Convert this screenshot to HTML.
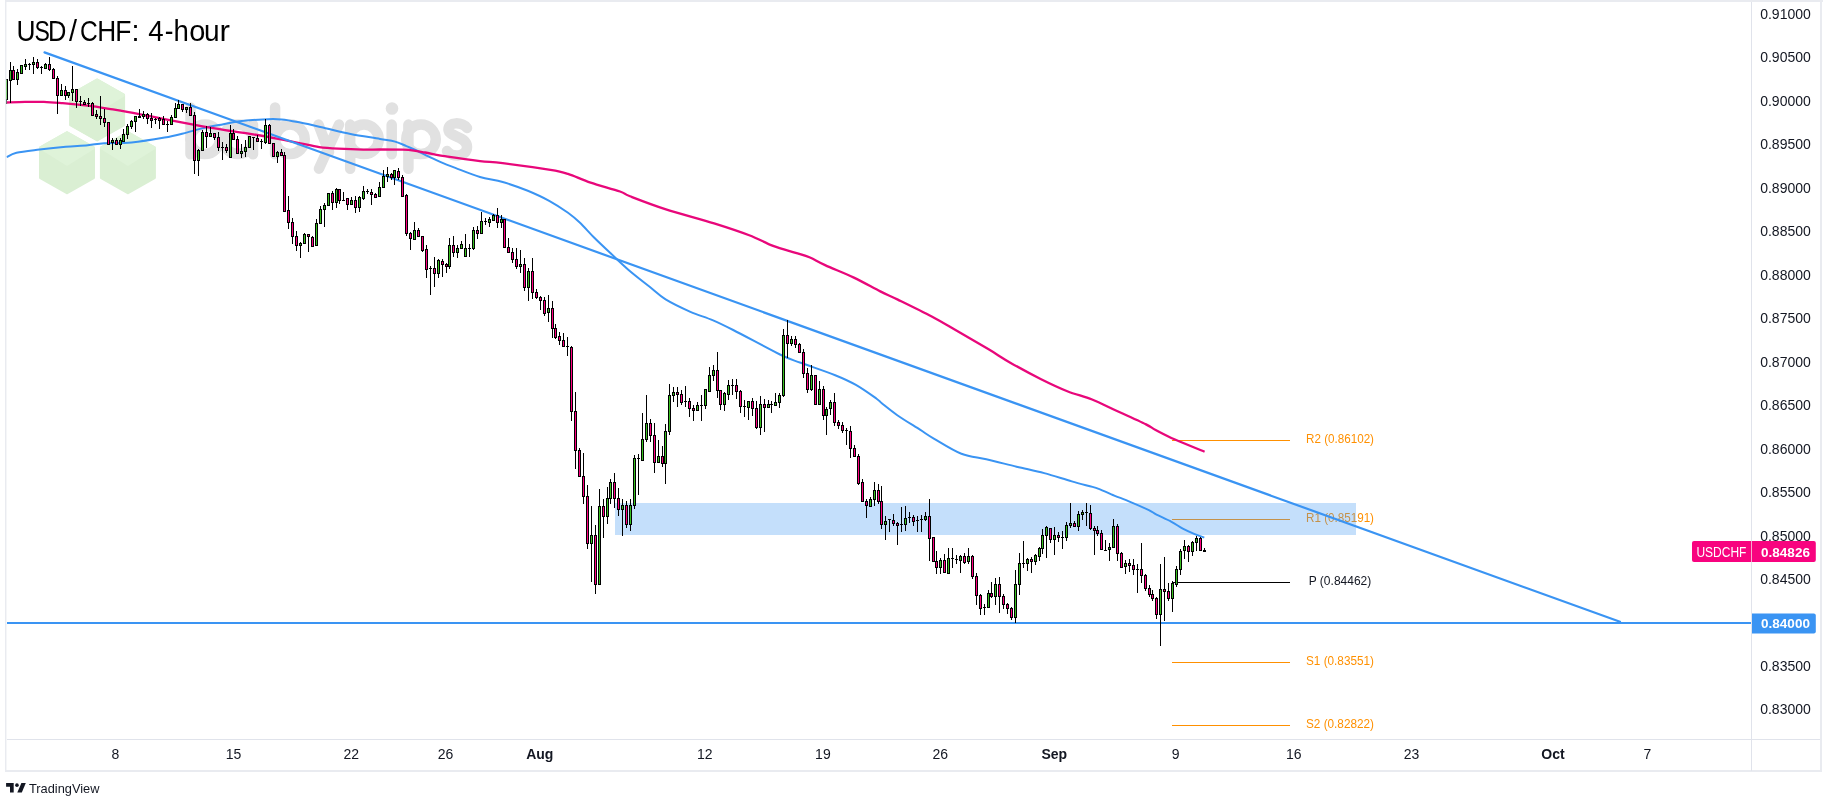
<!DOCTYPE html>
<html><head><meta charset="utf-8"><title>USD/CHF 4-hour</title>
<style>html,body{margin:0;padding:0;background:#fff;width:1823px;height:797px;overflow:hidden;position:relative}</style>
</head><body>
<svg width="1823" height="797" viewBox="0 0 1823 797" style="position:absolute;left:0;top:0;will-change:transform"><defs><clipPath id="pane"><rect x="6" y="2" width="1745" height="737"/></clipPath></defs><g clip-path="url(#pane)"><polygon points="97.10,80.02 123.60,94.97 123.60,124.93 97.10,139.88 70.60,124.93 70.60,94.97" fill="#daefd3" stroke="#daefd3" stroke-width="3" stroke-linejoin="round"/><polygon points="97.10,80.02 123.60,94.97 97.10,111.45 70.60,94.97" fill="#dff3d9" stroke="#dff3d9" stroke-width="3" stroke-linejoin="round"/>
<polygon points="67.00,132.82 93.50,147.77 93.50,177.73 67.00,192.67 40.50,177.73 40.50,147.77" fill="#fff" stroke="#fff" stroke-width="14" stroke-linejoin="round"/>
<polygon points="127.90,132.82 154.40,147.77 154.40,177.73 127.90,192.67 101.40,177.73 101.40,147.77" fill="#fff" stroke="#fff" stroke-width="14" stroke-linejoin="round"/>
<polygon points="67.00,132.82 93.50,147.77 93.50,177.73 67.00,192.67 40.50,177.73 40.50,147.77" fill="#daefd3" stroke="#daefd3" stroke-width="3" stroke-linejoin="round"/><polygon points="67.00,132.82 93.50,147.77 67.00,164.25 40.50,147.77" fill="#dff3d9" stroke="#dff3d9" stroke-width="3" stroke-linejoin="round"/>
<polygon points="127.90,132.82 154.40,147.77 154.40,177.73 127.90,192.67 101.40,177.73 101.40,147.77" fill="#daefd3" stroke="#daefd3" stroke-width="3" stroke-linejoin="round"/><polygon points="127.90,132.82 154.40,147.77 127.90,164.25 101.40,147.77" fill="#dff3d9" stroke="#dff3d9" stroke-width="3" stroke-linejoin="round"/>
<path d="M190.5 107.5V154.2 M190.25 139.35a14.75 14.75 0 1 0 29.5 0a14.75 14.75 0 1 0 -29.5 0 M223.25 139.35a14.75 14.75 0 1 0 29.5 0a14.75 14.75 0 1 0 -29.5 0 M253 124.6V154.2 M275.1 107.5V154.2 M275.25 139.35a14.75 14.75 0 1 0 29.5 0a14.75 14.75 0 1 0 -29.5 0 M318.5 124.6L329 152 M339 124.6L319 168.7 M350.2 124.6V168.7 M349.25 139.35a14.75 14.75 0 1 0 29.5 0a14.75 14.75 0 1 0 -29.5 0 M391.7 124.6V154.2 M408.4 124.6V168.7 M406.25 139.35a14.75 14.75 0 1 0 29.5 0a14.75 14.75 0 1 0 -29.5 0 M467 128C462 122 448 121 448.5 130C449 137 467 136 467 147C467 157 452 158 447 151" fill="none" stroke="#e1e1e1" stroke-width="10.5" stroke-linecap="round"/>
<circle cx="392" cy="108.5" r="6.3" fill="#e1e1e1"/><rect x="1172" y="440" width="118" height="1" fill="#ff9000"/>
<text x="1340" y="443" fill="#ff9000" font-size="13" text-anchor="middle" textLength="68" lengthAdjust="spacingAndGlyphs" style="font-family:'Liberation Sans',sans-serif">R2 (0.86102)</text>
<rect x="1172" y="519" width="118" height="1" fill="#ff9000"/>
<text x="1340" y="522" fill="#ff9000" font-size="13" text-anchor="middle" textLength="68" lengthAdjust="spacingAndGlyphs" style="font-family:'Liberation Sans',sans-serif">R1 (0.85191)</text>
<rect x="1172" y="582" width="118" height="1" fill="#000"/>
<text x="1340" y="585" fill="#131722" font-size="13" text-anchor="middle" textLength="62.5" lengthAdjust="spacingAndGlyphs" style="font-family:'Liberation Sans',sans-serif">P (0.84462)</text>
<rect x="1172" y="662" width="118" height="1" fill="#ff9000"/>
<text x="1340" y="665" fill="#ff9000" font-size="13" text-anchor="middle" textLength="68" lengthAdjust="spacingAndGlyphs" style="font-family:'Liberation Sans',sans-serif">S1 (0.83551)</text>
<rect x="1172" y="725" width="118" height="1" fill="#ff9000"/>
<text x="1340" y="728" fill="#ff9000" font-size="13" text-anchor="middle" textLength="68" lengthAdjust="spacingAndGlyphs" style="font-family:'Liberation Sans',sans-serif">S2 (0.82822)</text><rect x="615" y="503" width="741" height="32" fill="rgba(58,148,243,0.3)"/><path d="M6.6 157.2 C8.2 156.5 11.0 154.1 16.5 152.8 C22.0 151.5 31.3 150.6 39.5 149.6 C47.7 148.6 57.8 147.5 65.8 146.8 C73.8 146.1 81.4 145.8 87.8 145.2 C94.2 144.6 96.9 143.8 104.2 143.3 C111.5 142.8 121.5 143.4 131.6 142.4 C141.7 141.4 155.4 139.1 164.6 137.5 C173.8 135.9 180.6 134.0 186.5 132.6 C192.4 131.2 194.6 130.2 200.0 128.9 C205.4 127.7 212.5 126.3 218.8 125.1 C225.1 123.9 230.3 122.5 237.6 121.6 C244.9 120.6 255.4 119.8 262.7 119.4 C270.0 119.0 275.3 118.9 281.6 119.4 C287.9 119.9 293.1 121.1 300.4 122.6 C307.7 124.1 317.1 126.3 325.5 128.2 C333.9 130.1 341.5 132.1 350.6 133.9 C359.7 135.7 372.6 137.6 380.0 138.9 C387.4 140.2 390.7 140.4 395.1 141.6 C399.5 142.8 402.6 144.5 406.4 146.1 C410.1 147.7 413.9 149.2 417.6 151.0 C421.4 152.8 425.1 154.8 428.9 156.6 C432.7 158.4 435.8 160.0 440.2 161.9 C444.6 163.8 448.7 165.4 455.3 167.9 C461.9 170.4 472.1 174.7 480.0 177.0 C487.9 179.3 494.7 179.7 502.7 182.0 C510.7 184.3 520.0 187.7 527.8 190.8 C535.5 194.0 542.5 197.2 549.2 200.9 C555.9 204.6 562.9 209.2 568.0 212.8 C573.1 216.5 575.7 218.7 580.0 222.8 C584.3 226.9 588.7 232.2 593.8 237.3 C598.9 242.4 604.6 247.7 610.4 253.1 C616.1 258.5 621.9 264.2 628.3 269.7 C634.7 275.2 642.8 281.4 649.0 286.3 C655.2 291.2 658.7 295.1 665.6 299.4 C672.5 303.6 682.6 308.4 690.4 311.8 C698.2 315.2 705.4 317.1 712.5 320.1 C719.6 323.1 722.0 324.3 733.2 330.0 C744.5 335.7 768.8 349.0 780.0 354.5 C791.2 360.0 791.5 359.4 800.7 362.8 C809.9 366.2 826.0 371.5 835.2 375.2 C844.4 378.9 849.0 381.0 855.9 384.9 C862.8 388.8 872.2 395.6 876.6 398.7 C881.0 401.8 878.7 400.8 882.1 403.5 C885.5 406.2 891.0 410.8 897.3 415.2 C903.6 419.6 913.9 425.8 920.0 429.7 C926.1 433.6 926.9 434.6 933.8 438.6 C940.7 442.6 952.6 450.4 961.4 453.8 C970.1 457.2 977.1 457.2 986.3 459.3 C995.5 461.4 1007.0 464.4 1016.6 466.7 C1026.2 469.0 1035.0 470.7 1044.2 473.1 C1053.4 475.6 1063.8 479.1 1071.8 481.4 C1079.8 483.7 1087.8 485.6 1092.5 486.9 C1097.2 488.2 1096.9 488.2 1100.0 489.4 C1103.1 490.6 1106.3 492.2 1111.3 494.3 C1116.3 496.4 1123.8 499.2 1130.1 501.8 C1136.4 504.4 1144.5 508.0 1148.9 510.1 C1153.3 512.2 1152.7 512.7 1156.5 514.6 C1160.3 516.5 1167.1 519.5 1171.5 521.8 C1175.9 524.1 1179.0 526.6 1182.8 528.6 C1186.6 530.6 1190.5 532.3 1194.1 533.8 C1197.7 535.3 1202.6 537.0 1204.3 537.6" fill="none" stroke="#3a94f3" stroke-width="2"/><path d="M6.3 102.5 C9.4 102.4 18.8 102.0 25.1 101.9 C31.4 101.8 37.6 101.7 43.9 101.9 C50.2 102.1 55.4 102.6 62.7 103.2 C70.0 103.8 79.4 104.7 87.8 105.7 C96.2 106.7 104.5 108.1 112.9 109.4 C121.3 110.8 129.6 112.2 138.0 113.8 C146.4 115.4 152.8 116.9 163.1 118.9 C173.4 120.9 189.7 124.0 200.0 125.9 C210.3 127.8 216.7 128.8 225.1 130.1 C233.5 131.4 241.8 132.5 250.2 133.9 C258.6 135.3 266.9 136.7 275.3 138.3 C283.7 139.9 293.1 141.8 300.4 143.3 C307.7 144.8 312.9 146.2 319.2 147.1 C325.5 148.0 330.7 148.3 338.0 148.7 C345.3 149.1 356.1 149.5 363.1 149.6 C370.1 149.7 373.4 149.5 380.0 149.5 C386.6 149.5 397.0 149.5 402.6 149.7 C408.2 149.9 410.1 150.1 413.9 150.6 C417.7 151.1 419.5 151.5 425.2 152.5 C430.9 153.5 438.7 155.2 447.8 156.6 C456.9 158.0 470.9 160.0 480.0 161.1 C489.1 162.2 491.0 161.7 502.7 163.2 C514.4 164.7 539.5 168.1 550.4 169.9 C561.3 171.7 561.3 171.8 568.0 173.9 C574.7 176.0 581.9 179.8 590.6 182.7 C599.3 185.6 613.4 189.2 620.0 191.5 C626.6 193.8 622.5 193.4 630.0 196.3 C637.5 199.2 651.2 204.6 665.2 209.1 C679.2 213.6 700.1 219.0 714.1 223.3 C728.1 227.7 739.4 231.4 749.2 235.2 C759.0 239.0 765.4 243.0 773.1 245.9 C780.9 248.8 789.6 250.9 795.7 252.8 C801.9 254.7 805.1 255.4 810.0 257.5 C814.9 259.6 817.8 261.8 825.1 265.1 C832.4 268.5 844.7 273.2 853.9 277.6 C863.1 282.0 873.0 287.7 880.3 291.4 C887.6 295.1 889.2 295.4 897.8 299.6 C906.4 303.8 921.7 311.2 931.7 316.5 C941.8 321.8 948.7 326.2 958.1 331.6 C967.5 337.0 979.4 343.9 988.2 349.1 C997.0 354.3 1001.9 357.9 1010.7 362.9 C1019.5 367.9 1031.7 374.5 1041.1 379.2 C1050.5 383.9 1058.8 387.8 1067.3 391.2 C1075.8 394.6 1083.8 396.2 1092.1 399.5 C1100.4 402.8 1108.0 406.9 1117.0 411.0 C1126.0 415.1 1139.6 421.2 1146.0 424.4 C1152.4 427.5 1150.8 427.4 1155.6 429.9 C1160.4 432.4 1166.8 435.9 1175.0 439.5 C1183.2 443.1 1199.7 449.7 1204.6 451.7" fill="none" stroke="#e8077a" stroke-width="2.3"/><line x1="44.5" y1="52.4" x2="1620" y2="621.8" stroke="#3a94f3" stroke-width="2.2" stroke-linecap="round"/><rect x="7" y="622" width="1744" height="2" fill="#3a94f3"/><g shape-rendering="crispEdges"><path d="M6 80h1v24h-1zM10 62h1v41h-1zM13 66h1v14h-1zM17 69h1v16h-1zM21 65h1v9h-1zM25 59h1v11h-1zM29 63h1v7h-1zM33 57h1v17h-1zM37 59h1v10h-1zM41 66h1v8h-1zM45 63h1v6h-1zM49 57h1v14h-1zM53 68h1v11h-1zM57 76h1v38h-1zM61 84h1v12h-1zM65 86h1v14h-1zM68 92h1v6h-1zM72 66h1v35h-1zM76 89h1v19h-1zM80 96h1v10h-1zM84 100h1v5h-1zM88 98h1v9h-1zM92 102h1v14h-1zM96 110h1v9h-1zM100 96h1v29h-1zM104 109h1v18h-1zM108 122h1v23h-1zM112 138h1v12h-1zM116 138h1v7h-1zM120 138h1v11h-1zM123 129h1v13h-1zM127 124h1v15h-1zM131 120h1v9h-1zM135 116h1v16h-1zM139 109h1v9h-1zM143 111h1v8h-1zM147 113h1v11h-1zM151 113h1v15h-1zM155 118h1v6h-1zM159 117h1v12h-1zM163 116h1v9h-1zM167 121h1v11h-1zM171 115h1v10h-1zM175 103h1v15h-1zM178 100h1v9h-1zM182 104h1v8h-1zM186 107h1v6h-1zM190 103h1v13h-1zM194 112h1v62h-1zM198 149h1v27h-1zM202 130h1v21h-1zM206 126h1v22h-1zM210 127h1v10h-1zM214 133h1v7h-1zM218 132h1v19h-1zM222 142h1v18h-1zM226 144h1v9h-1zM230 125h1v33h-1zM233 129h1v11h-1zM237 136h1v18h-1zM241 144h1v14h-1zM245 140h1v17h-1zM249 136h1v12h-1zM253 137h1v13h-1zM257 135h1v7h-1zM261 139h1v10h-1zM265 119h1v25h-1zM269 124h1v20h-1zM273 143h1v14h-1zM277 151h1v12h-1zM281 149h1v7h-1zM284 152h1v60h-1zM288 196h1v33h-1zM292 218h1v26h-1zM296 231h1v20h-1zM300 242h1v16h-1zM304 233h1v11h-1zM308 234h1v18h-1zM312 236h1v11h-1zM316 219h1v27h-1zM320 206h1v18h-1zM324 203h1v24h-1zM328 193h1v13h-1zM332 191h1v19h-1zM336 188h1v20h-1zM339 189h1v15h-1zM343 192h1v9h-1zM347 198h1v12h-1zM351 197h1v8h-1zM355 196h1v17h-1zM359 196h1v16h-1zM363 186h1v14h-1zM367 189h1v5h-1zM371 189h1v16h-1zM375 193h1v5h-1zM379 182h1v15h-1zM383 170h1v18h-1zM387 167h1v15h-1zM391 173h1v7h-1zM394 170h1v15h-1zM398 168h1v12h-1zM402 175h1v22h-1zM406 194h1v42h-1zM410 232h1v18h-1zM414 222h1v18h-1zM418 228h1v9h-1zM422 236h1v16h-1zM426 245h1v33h-1zM430 266h1v29h-1zM434 257h1v30h-1zM438 259h1v19h-1zM442 259h1v18h-1zM446 263h1v10h-1zM449 238h1v31h-1zM453 236h1v21h-1zM457 245h1v13h-1zM461 241h1v8h-1zM465 234h1v23h-1zM469 244h1v13h-1zM473 227h1v23h-1zM477 226h1v13h-1zM481 212h1v22h-1zM485 218h1v7h-1zM489 217h1v10h-1zM493 214h1v7h-1zM497 208h1v20h-1zM501 215h1v13h-1zM504 219h1v29h-1zM508 238h1v15h-1zM512 248h1v15h-1zM516 248h1v21h-1zM520 250h1v23h-1zM524 258h1v33h-1zM528 268h1v33h-1zM532 258h1v41h-1zM536 289h1v10h-1zM540 296h1v14h-1zM544 297h1v19h-1zM548 295h1v27h-1zM552 301h1v37h-1zM555 324h1v15h-1zM559 332h1v13h-1zM563 333h1v14h-1zM567 337h1v19h-1zM571 346h1v75h-1zM575 392h1v77h-1zM579 448h1v29h-1zM583 453h1v51h-1zM587 485h1v64h-1zM591 506h1v76h-1zM595 525h1v69h-1zM599 489h1v96h-1zM603 499h1v39h-1zM607 487h1v37h-1zM610 479h1v25h-1zM614 473h1v35h-1zM618 488h1v28h-1zM622 499h1v37h-1zM626 501h1v27h-1zM630 499h1v32h-1zM634 455h1v54h-1zM638 454h1v41h-1zM642 413h1v48h-1zM646 395h1v47h-1zM650 419h1v23h-1zM654 423h1v50h-1zM658 440h1v23h-1zM662 446h1v21h-1zM665 424h1v60h-1zM669 384h1v51h-1zM673 387h1v15h-1zM677 387h1v20h-1zM681 390h1v15h-1zM685 386h1v21h-1zM689 398h1v19h-1zM693 405h1v16h-1zM697 402h1v9h-1zM701 395h1v26h-1zM705 389h1v20h-1zM709 367h1v25h-1zM713 365h1v16h-1zM717 352h1v46h-1zM720 390h1v20h-1zM724 392h1v19h-1zM728 380h1v20h-1zM732 379h1v16h-1zM736 379h1v20h-1zM740 390h1v23h-1zM744 400h1v17h-1zM748 401h1v19h-1zM752 398h1v18h-1zM756 401h1v28h-1zM760 396h1v39h-1zM764 399h1v33h-1zM768 400h1v8h-1zM771 401h1v12h-1zM775 393h1v13h-1zM779 393h1v15h-1zM783 329h1v68h-1zM787 320h1v38h-1zM791 336h1v10h-1zM795 336h1v12h-1zM799 343h1v10h-1zM803 349h1v29h-1zM807 368h1v25h-1zM811 365h1v26h-1zM815 375h1v30h-1zM819 381h1v24h-1zM823 386h1v34h-1zM826 407h1v28h-1zM830 400h1v15h-1zM834 393h1v33h-1zM838 420h1v9h-1zM842 422h1v11h-1zM846 428h1v17h-1zM850 426h1v32h-1zM854 445h1v12h-1zM858 454h1v31h-1zM862 479h1v23h-1zM866 499h1v19h-1zM870 497h1v10h-1zM874 482h1v24h-1zM878 484h1v20h-1zM881 486h1v43h-1zM885 516h1v24h-1zM889 519h1v13h-1zM893 514h1v12h-1zM897 522h1v23h-1zM901 507h1v25h-1zM905 506h1v25h-1zM909 512h1v11h-1zM913 515h1v11h-1zM917 516h1v16h-1zM921 515h1v17h-1zM925 512h1v9h-1zM929 499h1v62h-1zM933 537h1v25h-1zM936 551h1v23h-1zM940 558h1v16h-1zM944 554h1v19h-1zM948 548h1v26h-1zM952 548h1v20h-1zM956 555h1v9h-1zM960 555h1v18h-1zM964 553h1v11h-1zM968 548h1v16h-1zM972 555h1v24h-1zM976 573h1v32h-1zM980 594h1v21h-1zM984 604h1v11h-1zM988 590h1v18h-1zM991 582h1v16h-1zM995 578h1v27h-1zM999 577h1v36h-1zM1003 594h1v15h-1zM1007 603h1v11h-1zM1011 607h1v13h-1zM1015 570h1v53h-1zM1019 553h1v42h-1zM1023 541h1v27h-1zM1027 558h1v13h-1zM1031 557h1v16h-1zM1035 554h1v11h-1zM1039 547h1v14h-1zM1042 529h1v25h-1zM1046 526h1v32h-1zM1050 528h1v15h-1zM1054 527h1v28h-1zM1058 532h1v10h-1zM1062 531h1v18h-1zM1066 522h1v19h-1zM1070 503h1v25h-1zM1074 521h1v6h-1zM1078 511h1v20h-1zM1082 510h1v10h-1zM1086 503h1v23h-1zM1090 505h1v25h-1zM1094 526h1v29h-1zM1097 526h1v10h-1zM1101 530h1v20h-1zM1105 540h1v11h-1zM1109 543h1v18h-1zM1113 519h1v29h-1zM1117 524h1v37h-1zM1121 552h1v16h-1zM1125 560h1v14h-1zM1129 559h1v13h-1zM1133 559h1v16h-1zM1137 564h1v29h-1zM1141 543h1v40h-1zM1145 574h1v17h-1zM1149 585h1v12h-1zM1152 590h1v11h-1zM1156 597h1v22h-1zM1160 564h1v82h-1zM1164 557h1v64h-1zM1168 583h1v18h-1zM1172 581h1v31h-1zM1176 566h1v21h-1zM1180 549h1v26h-1zM1184 540h1v19h-1zM1188 545h1v17h-1zM1192 541h1v15h-1zM1196 536h1v15h-1zM1200 537h1v14h-1zM1204 548h1v4h-1z" fill="#000"/>
<path d="M5 79h3v21h-3zM9 70h3v11h-3zM12 70h3v10h-3zM16 72h3v8h-3zM20 65h3v9h-3zM24 64h3v3h-3zM28 64h3v1h-3zM32 62h3v3h-3zM36 62h3v6h-3zM40 67h3v1h-3zM44 64h3v5h-3zM48 64h3v6h-3zM52 69h3v10h-3zM56 78h3v18h-3zM60 90h3v6h-3zM64 90h3v6h-3zM67 92h3v4h-3zM71 89h3v4h-3zM75 89h3v13h-3zM79 101h3v1h-3zM83 102h3v3h-3zM87 103h3v1h-3zM91 103h3v13h-3zM95 114h3v3h-3zM99 116h3v3h-3zM103 118h3v5h-3zM107 122h3v23h-3zM111 140h3v3h-3zM115 140h3v5h-3zM119 140h3v5h-3zM122 134h3v8h-3zM126 126h3v9h-3zM130 121h3v6h-3zM134 116h3v6h-3zM138 116h3v2h-3zM142 114h3v3h-3zM146 114h3v5h-3zM150 118h3v3h-3zM154 119h3v1h-3zM158 118h3v3h-3zM162 119h3v6h-3zM166 124h3v1h-3zM170 117h3v8h-3zM174 108h3v10h-3zM177 104h3v5h-3zM181 104h3v6h-3zM185 107h3v3h-3zM189 107h3v9h-3zM193 115h3v46h-3zM197 150h3v11h-3zM201 132h3v19h-3zM205 132h3v5h-3zM209 133h3v4h-3zM213 133h3v5h-3zM217 137h3v11h-3zM221 147h3v1h-3zM225 147h3v4h-3zM229 133h3v25h-3zM232 133h3v7h-3zM236 139h3v15h-3zM240 151h3v3h-3zM244 147h3v5h-3zM248 136h3v12h-3zM252 137h3v1h-3zM256 138h3v4h-3zM260 141h3v1h-3zM264 125h3v18h-3zM268 125h3v19h-3zM272 143h3v14h-3zM276 152h3v5h-3zM280 152h3v4h-3zM283 155h3v57h-3zM287 210h3v13h-3zM291 222h3v15h-3zM295 236h3v10h-3zM299 243h3v3h-3zM303 234h3v10h-3zM307 234h3v3h-3zM311 237h3v10h-3zM315 223h3v23h-3zM319 209h3v15h-3zM323 205h3v5h-3zM327 193h3v13h-3zM331 193h3v10h-3zM335 189h3v14h-3zM338 189h3v12h-3zM342 200h3v1h-3zM346 198h3v7h-3zM350 200h3v5h-3zM354 200h3v8h-3zM358 197h3v11h-3zM362 191h3v8h-3zM366 191h3v1h-3zM370 192h3v3h-3zM374 194h3v4h-3zM378 187h3v10h-3zM382 176h3v12h-3zM386 174h3v3h-3zM390 174h3v4h-3zM393 170h3v8h-3zM397 171h3v7h-3zM401 177h3v20h-3zM405 195h3v39h-3zM409 233h3v6h-3zM413 230h3v10h-3zM417 230h3v7h-3zM421 236h3v15h-3zM425 249h3v21h-3zM429 268h3v1h-3zM433 268h3v6h-3zM437 260h3v14h-3zM441 261h3v4h-3zM445 264h3v3h-3zM448 245h3v22h-3zM452 245h3v8h-3zM456 248h3v5h-3zM460 244h3v5h-3zM464 248h3v9h-3zM468 248h3v1h-3zM472 230h3v19h-3zM476 230h3v4h-3zM480 221h3v13h-3zM484 221h3v1h-3zM488 219h3v4h-3zM492 215h3v6h-3zM496 215h3v8h-3zM500 219h3v4h-3zM503 219h3v29h-3zM507 247h3v6h-3zM511 252h3v8h-3zM515 259h3v8h-3zM519 264h3v3h-3zM523 264h3v24h-3zM527 271h3v17h-3zM531 271h3v22h-3zM535 292h3v6h-3zM539 297h3v4h-3zM543 300h3v14h-3zM547 308h3v5h-3zM551 308h3v21h-3zM554 328h3v10h-3zM558 336h3v5h-3zM562 340h3v7h-3zM566 346h3v1h-3zM570 347h3v65h-3zM574 411h3v40h-3zM578 450h3v27h-3zM582 476h3v21h-3zM586 496h3v48h-3zM590 535h3v9h-3zM594 535h3v50h-3zM598 506h3v79h-3zM602 506h3v11h-3zM606 498h3v19h-3zM609 482h3v17h-3zM613 482h3v17h-3zM617 498h3v12h-3zM621 505h3v5h-3zM625 505h3v20h-3zM629 505h3v20h-3zM633 458h3v48h-3zM637 458h3v1h-3zM641 439h3v22h-3zM645 423h3v17h-3zM649 423h3v13h-3zM653 435h3v28h-3zM657 456h3v7h-3zM661 456h3v8h-3zM664 431h3v33h-3zM668 395h3v37h-3zM672 392h3v4h-3zM676 392h3v3h-3zM680 394h3v9h-3zM684 401h3v1h-3zM688 401h3v8h-3zM692 408h3v3h-3zM696 405h3v6h-3zM700 405h3v1h-3zM704 389h3v17h-3zM708 375h3v17h-3zM712 370h3v6h-3zM716 370h3v21h-3zM719 390h3v15h-3zM723 393h3v12h-3zM727 385h3v10h-3zM731 385h3v1h-3zM735 385h3v7h-3zM739 391h3v16h-3zM743 406h3v1h-3zM747 401h3v7h-3zM751 401h3v8h-3zM755 408h3v20h-3zM759 404h3v24h-3zM763 404h3v4h-3zM767 404h3v4h-3zM770 404h3v1h-3zM774 402h3v4h-3zM778 395h3v8h-3zM782 335h3v61h-3zM786 335h3v9h-3zM790 339h3v5h-3zM794 339h3v6h-3zM798 344h3v9h-3zM802 352h3v22h-3zM806 373h3v17h-3zM810 375h3v15h-3zM814 375h3v30h-3zM818 389h3v16h-3zM822 389h3v27h-3zM825 409h3v7h-3zM829 402h3v7h-3zM833 402h3v21h-3zM837 422h3v4h-3zM841 425h3v6h-3zM845 430h3v1h-3zM849 431h3v18h-3zM853 448h3v9h-3zM857 456h3v28h-3zM861 482h3v20h-3zM865 501h3v5h-3zM869 499h3v8h-3zM873 490h3v10h-3zM877 490h3v12h-3zM880 501h3v24h-3zM884 521h3v4h-3zM888 519h3v1h-3zM892 520h3v4h-3zM896 523h3v3h-3zM900 524h3v1h-3zM904 518h3v7h-3zM908 517h3v1h-3zM912 517h3v5h-3zM916 520h3v1h-3zM920 519h3v1h-3zM924 516h3v4h-3zM928 516h3v23h-3zM932 537h3v25h-3zM935 561h3v7h-3zM939 560h3v8h-3zM943 560h3v13h-3zM947 558h3v16h-3zM951 558h3v1h-3zM955 559h3v1h-3zM959 556h3v5h-3zM963 556h3v7h-3zM967 556h3v6h-3zM971 556h3v21h-3zM975 576h3v20h-3zM979 595h3v14h-3zM983 607h3v1h-3zM987 593h3v15h-3zM990 593h3v4h-3zM994 584h3v13h-3zM998 584h3v13h-3zM1002 596h3v9h-3zM1006 604h3v5h-3zM1010 608h3v10h-3zM1014 584h3v34h-3zM1018 563h3v22h-3zM1022 563h3v1h-3zM1026 559h3v5h-3zM1030 559h3v3h-3zM1034 555h3v7h-3zM1038 548h3v9h-3zM1041 535h3v14h-3zM1045 527h3v9h-3zM1049 528h3v12h-3zM1053 535h3v5h-3zM1057 535h3v3h-3zM1061 537h3v1h-3zM1065 525h3v13h-3zM1069 523h3v3h-3zM1073 523h3v4h-3zM1077 514h3v13h-3zM1081 512h3v3h-3zM1085 512h3v1h-3zM1089 513h3v16h-3zM1093 528h3v3h-3zM1096 530h3v4h-3zM1100 533h3v17h-3zM1104 550h3v1h-3zM1108 547h3v3h-3zM1112 526h3v22h-3zM1116 526h3v28h-3zM1120 553h3v15h-3zM1124 563h3v4h-3zM1128 563h3v3h-3zM1132 565h3v5h-3zM1136 569h3v1h-3zM1140 569h3v7h-3zM1144 575h3v14h-3zM1148 588h3v7h-3zM1151 594h3v5h-3zM1155 598h3v17h-3zM1159 589h3v26h-3zM1163 589h3v3h-3zM1167 591h3v8h-3zM1171 583h3v16h-3zM1175 569h3v16h-3zM1179 551h3v19h-3zM1183 546h3v5h-3zM1187 546h3v6h-3zM1191 542h3v10h-3zM1195 538h3v5h-3zM1199 538h3v13h-3zM1203 550h3v2h-3z" fill="#000"/>
<path d="M6 80h1v19h-1zM10 71h1v9h-1zM17 73h1v6h-1zM21 66h1v7h-1zM25 65h1v1h-1zM33 63h1v1h-1zM45 65h1v3h-1zM61 91h1v4h-1zM68 93h1v2h-1zM72 90h1v2h-1zM112 141h1v1h-1zM120 141h1v3h-1zM123 135h1v6h-1zM127 127h1v7h-1zM131 122h1v4h-1zM135 117h1v4h-1zM143 115h1v1h-1zM171 118h1v6h-1zM175 109h1v8h-1zM178 105h1v3h-1zM186 108h1v1h-1zM198 151h1v9h-1zM202 133h1v17h-1zM210 134h1v2h-1zM230 134h1v23h-1zM241 152h1v1h-1zM245 148h1v3h-1zM249 137h1v10h-1zM265 126h1v16h-1zM277 153h1v3h-1zM300 244h1v1h-1zM304 235h1v8h-1zM316 224h1v21h-1zM320 210h1v13h-1zM324 206h1v3h-1zM328 194h1v11h-1zM336 190h1v12h-1zM351 201h1v3h-1zM359 198h1v9h-1zM363 192h1v6h-1zM379 188h1v8h-1zM383 177h1v10h-1zM387 175h1v1h-1zM394 171h1v6h-1zM414 231h1v8h-1zM438 261h1v12h-1zM449 246h1v20h-1zM457 249h1v3h-1zM461 245h1v3h-1zM465 249h1v7h-1zM473 231h1v17h-1zM481 222h1v11h-1zM489 220h1v2h-1zM493 216h1v4h-1zM501 220h1v2h-1zM520 265h1v1h-1zM528 272h1v15h-1zM548 309h1v3h-1zM591 536h1v7h-1zM599 507h1v77h-1zM607 499h1v17h-1zM610 483h1v15h-1zM622 506h1v3h-1zM630 506h1v18h-1zM634 459h1v46h-1zM642 440h1v20h-1zM646 424h1v15h-1zM658 457h1v5h-1zM665 432h1v31h-1zM669 396h1v35h-1zM673 393h1v2h-1zM697 406h1v4h-1zM705 390h1v15h-1zM709 376h1v15h-1zM713 371h1v4h-1zM724 394h1v10h-1zM728 386h1v8h-1zM748 402h1v5h-1zM760 405h1v22h-1zM768 405h1v2h-1zM775 403h1v2h-1zM779 396h1v6h-1zM783 336h1v59h-1zM791 340h1v3h-1zM811 376h1v13h-1zM819 390h1v14h-1zM826 410h1v5h-1zM830 403h1v5h-1zM870 500h1v6h-1zM874 491h1v8h-1zM885 522h1v2h-1zM905 519h1v5h-1zM925 517h1v2h-1zM940 561h1v6h-1zM948 559h1v14h-1zM960 557h1v3h-1zM968 557h1v4h-1zM988 594h1v13h-1zM995 585h1v11h-1zM1015 585h1v32h-1zM1019 564h1v20h-1zM1027 560h1v3h-1zM1035 556h1v5h-1zM1039 549h1v7h-1zM1042 536h1v12h-1zM1046 528h1v7h-1zM1054 536h1v3h-1zM1066 526h1v11h-1zM1070 524h1v1h-1zM1078 515h1v11h-1zM1082 513h1v1h-1zM1109 548h1v1h-1zM1113 527h1v20h-1zM1125 564h1v2h-1zM1160 590h1v24h-1zM1172 584h1v14h-1zM1176 570h1v14h-1zM1180 552h1v17h-1zM1184 547h1v3h-1zM1192 543h1v8h-1zM1196 539h1v3h-1z" fill="#38c020"/>
<path d="M13 71h1v8h-1zM37 63h1v4h-1zM49 65h1v4h-1zM53 70h1v8h-1zM57 79h1v16h-1zM65 91h1v4h-1zM76 90h1v11h-1zM84 103h1v1h-1zM92 104h1v11h-1zM96 115h1v1h-1zM100 117h1v1h-1zM104 119h1v3h-1zM108 123h1v21h-1zM116 141h1v3h-1zM147 115h1v3h-1zM151 119h1v1h-1zM159 119h1v1h-1zM163 120h1v4h-1zM182 105h1v4h-1zM190 108h1v7h-1zM194 116h1v44h-1zM206 133h1v3h-1zM214 134h1v3h-1zM218 138h1v9h-1zM226 148h1v2h-1zM233 134h1v5h-1zM237 140h1v13h-1zM257 139h1v2h-1zM269 126h1v17h-1zM273 144h1v12h-1zM281 153h1v2h-1zM284 156h1v55h-1zM288 211h1v11h-1zM292 223h1v13h-1zM296 237h1v8h-1zM308 235h1v1h-1zM312 238h1v8h-1zM332 194h1v8h-1zM339 190h1v10h-1zM347 199h1v5h-1zM355 201h1v6h-1zM371 193h1v1h-1zM375 195h1v2h-1zM391 175h1v2h-1zM398 172h1v5h-1zM402 178h1v18h-1zM406 196h1v37h-1zM410 234h1v4h-1zM418 231h1v5h-1zM422 237h1v13h-1zM426 250h1v19h-1zM434 269h1v4h-1zM442 262h1v2h-1zM446 265h1v1h-1zM453 246h1v6h-1zM477 231h1v2h-1zM497 216h1v6h-1zM504 220h1v27h-1zM508 248h1v4h-1zM512 253h1v6h-1zM516 260h1v6h-1zM524 265h1v22h-1zM532 272h1v20h-1zM536 293h1v4h-1zM540 298h1v2h-1zM544 301h1v12h-1zM552 309h1v19h-1zM555 329h1v8h-1zM559 337h1v3h-1zM563 341h1v5h-1zM571 348h1v63h-1zM575 412h1v38h-1zM579 451h1v25h-1zM583 477h1v19h-1zM587 497h1v46h-1zM595 536h1v48h-1zM603 507h1v9h-1zM614 483h1v15h-1zM618 499h1v10h-1zM626 506h1v18h-1zM650 424h1v11h-1zM654 436h1v26h-1zM662 457h1v6h-1zM677 393h1v1h-1zM681 395h1v7h-1zM689 402h1v6h-1zM693 409h1v1h-1zM717 371h1v19h-1zM720 391h1v13h-1zM736 386h1v5h-1zM740 392h1v14h-1zM752 402h1v6h-1zM756 409h1v18h-1zM764 405h1v2h-1zM787 336h1v7h-1zM795 340h1v4h-1zM799 345h1v7h-1zM803 353h1v20h-1zM807 374h1v15h-1zM815 376h1v28h-1zM823 390h1v25h-1zM834 403h1v19h-1zM838 423h1v2h-1zM842 426h1v4h-1zM850 432h1v16h-1zM854 449h1v7h-1zM858 457h1v26h-1zM862 483h1v18h-1zM866 502h1v3h-1zM878 491h1v10h-1zM881 502h1v22h-1zM893 521h1v2h-1zM897 524h1v1h-1zM913 518h1v3h-1zM929 517h1v21h-1zM933 538h1v23h-1zM936 562h1v5h-1zM944 561h1v11h-1zM964 557h1v5h-1zM972 557h1v19h-1zM976 577h1v18h-1zM980 596h1v12h-1zM991 594h1v2h-1zM999 585h1v11h-1zM1003 597h1v7h-1zM1007 605h1v3h-1zM1011 609h1v8h-1zM1031 560h1v1h-1zM1050 529h1v10h-1zM1058 536h1v1h-1zM1074 524h1v2h-1zM1090 514h1v14h-1zM1094 529h1v1h-1zM1097 531h1v2h-1zM1101 534h1v15h-1zM1117 527h1v26h-1zM1121 554h1v13h-1zM1129 564h1v1h-1zM1133 566h1v3h-1zM1141 570h1v5h-1zM1145 576h1v12h-1zM1149 589h1v5h-1zM1152 595h1v3h-1zM1156 599h1v15h-1zM1164 590h1v1h-1zM1168 592h1v6h-1zM1188 547h1v4h-1zM1200 539h1v11h-1z" fill="#ff0080"/></g></g><text x="15.71" y="40.8" transform="translate(26.00 0) scale(0.915 1) translate(-26.00 0)" fill="#000" font-size="28.8" style="font-family:'Liberation Sans',sans-serif">U</text><text x="32.74" y="40.8" transform="translate(42.00 0) scale(0.800 1) translate(-42.00 0)" fill="#000" font-size="28.8" style="font-family:'Liberation Sans',sans-serif">S</text><text x="46.80" y="40.8" transform="translate(57.60 0) scale(0.883 1) translate(-57.60 0)" fill="#000" font-size="28.8" style="font-family:'Liberation Sans',sans-serif">D</text><text x="68.99" y="40.8" transform="translate(73.10 0) scale(1.000 1) translate(-73.10 0)" fill="#000" font-size="28.8" style="font-family:'Liberation Sans',sans-serif">/</text><text x="78.61" y="40.8" transform="translate(88.90 0) scale(0.853 1) translate(-88.90 0)" fill="#000" font-size="28.8" style="font-family:'Liberation Sans',sans-serif">C</text><text x="96.36" y="40.8" transform="translate(106.65 0) scale(0.911 1) translate(-106.65 0)" fill="#000" font-size="28.8" style="font-family:'Liberation Sans',sans-serif">H</text><text x="114.39" y="40.8" transform="translate(123.65 0) scale(0.919 1) translate(-123.65 0)" fill="#000" font-size="28.8" style="font-family:'Liberation Sans',sans-serif">F</text><text x="131.45" y="40.8" transform="translate(135.05 0) scale(1.000 1) translate(-135.05 0)" fill="#000" font-size="28.8" style="font-family:'Liberation Sans',sans-serif">:</text><text x="147.92" y="40.8" transform="translate(156.15 0) scale(0.962 1) translate(-156.15 0)" fill="#000" font-size="28.8" style="font-family:'Liberation Sans',sans-serif">4</text><text x="164.22" y="40.8" transform="translate(168.85 0) scale(0.905 1) translate(-168.85 0)" fill="#000" font-size="28.8" style="font-family:'Liberation Sans',sans-serif">-</text><text x="173.22" y="40.8" transform="translate(181.45 0) scale(0.958 1) translate(-181.45 0)" fill="#000" font-size="28.8" style="font-family:'Liberation Sans',sans-serif">h</text><text x="189.24" y="40.8" transform="translate(196.95 0) scale(1.006 1) translate(-196.95 0)" fill="#000" font-size="28.8" style="font-family:'Liberation Sans',sans-serif">o</text><text x="203.67" y="40.8" transform="translate(211.90 0) scale(0.973 1) translate(-211.90 0)" fill="#000" font-size="28.8" style="font-family:'Liberation Sans',sans-serif">u</text><text x="219.89" y="40.8" transform="translate(225.55 0) scale(1.089 1) translate(-225.55 0)" fill="#000" font-size="28.8" style="font-family:'Liberation Sans',sans-serif">r</text><g shape-rendering="crispEdges"><rect x="5" y="0" width="1818" height="2" fill="#e9ebf0"/><rect x="5" y="0" width="1" height="772" fill="#e9ebf0"/><rect x="6" y="0" width="1" height="772" fill="#e9ebf0" opacity="0.45"/><rect x="1820" y="0" width="2" height="772" fill="#e9ebf0"/><rect x="5" y="770" width="1817" height="2" fill="#e9ebf0"/><rect x="1751" y="2" width="1" height="769" fill="#e0e3eb"/><rect x="7" y="739" width="1813" height="1" fill="#e0e3eb"/></g><text x="1785.5" y="18.8" fill="#131722" font-size="14" text-anchor="middle" style="font-family:'Liberation Sans',sans-serif">0.91000</text>
<text x="1785.5" y="62.2" fill="#131722" font-size="14" text-anchor="middle" style="font-family:'Liberation Sans',sans-serif">0.90500</text>
<text x="1785.5" y="105.7" fill="#131722" font-size="14" text-anchor="middle" style="font-family:'Liberation Sans',sans-serif">0.90000</text>
<text x="1785.5" y="149.2" fill="#131722" font-size="14" text-anchor="middle" style="font-family:'Liberation Sans',sans-serif">0.89500</text>
<text x="1785.5" y="192.7" fill="#131722" font-size="14" text-anchor="middle" style="font-family:'Liberation Sans',sans-serif">0.89000</text>
<text x="1785.5" y="236.2" fill="#131722" font-size="14" text-anchor="middle" style="font-family:'Liberation Sans',sans-serif">0.88500</text>
<text x="1785.5" y="279.6" fill="#131722" font-size="14" text-anchor="middle" style="font-family:'Liberation Sans',sans-serif">0.88000</text>
<text x="1785.5" y="323.1" fill="#131722" font-size="14" text-anchor="middle" style="font-family:'Liberation Sans',sans-serif">0.87500</text>
<text x="1785.5" y="366.6" fill="#131722" font-size="14" text-anchor="middle" style="font-family:'Liberation Sans',sans-serif">0.87000</text>
<text x="1785.5" y="410.1" fill="#131722" font-size="14" text-anchor="middle" style="font-family:'Liberation Sans',sans-serif">0.86500</text>
<text x="1785.5" y="453.6" fill="#131722" font-size="14" text-anchor="middle" style="font-family:'Liberation Sans',sans-serif">0.86000</text>
<text x="1785.5" y="497.0" fill="#131722" font-size="14" text-anchor="middle" style="font-family:'Liberation Sans',sans-serif">0.85500</text>
<text x="1785.5" y="540.5" fill="#131722" font-size="14" text-anchor="middle" style="font-family:'Liberation Sans',sans-serif">0.85000</text>
<text x="1785.5" y="584.0" fill="#131722" font-size="14" text-anchor="middle" style="font-family:'Liberation Sans',sans-serif">0.84500</text>
<text x="1785.5" y="670.9" fill="#131722" font-size="14" text-anchor="middle" style="font-family:'Liberation Sans',sans-serif">0.83500</text>
<text x="1785.5" y="714.4" fill="#131722" font-size="14" text-anchor="middle" style="font-family:'Liberation Sans',sans-serif">0.83000</text>
<text x="115.5" y="758.9" fill="#131722" font-size="14" text-anchor="middle" style="font-family:'Liberation Sans',sans-serif">8</text>
<text x="233.6" y="758.9" fill="#131722" font-size="14" text-anchor="middle" style="font-family:'Liberation Sans',sans-serif">15</text>
<text x="351.3" y="758.9" fill="#131722" font-size="14" text-anchor="middle" style="font-family:'Liberation Sans',sans-serif">22</text>
<text x="445.6" y="758.9" fill="#131722" font-size="14" text-anchor="middle" style="font-family:'Liberation Sans',sans-serif">26</text>
<text x="539.8" y="758.9" fill="#131722" font-size="14" text-anchor="middle" font-weight="bold" style="font-family:'Liberation Sans',sans-serif">Aug</text>
<text x="704.8" y="758.9" fill="#131722" font-size="14" text-anchor="middle" style="font-family:'Liberation Sans',sans-serif">12</text>
<text x="822.9" y="758.9" fill="#131722" font-size="14" text-anchor="middle" style="font-family:'Liberation Sans',sans-serif">19</text>
<text x="940.3" y="758.9" fill="#131722" font-size="14" text-anchor="middle" style="font-family:'Liberation Sans',sans-serif">26</text>
<text x="1054.3" y="758.9" fill="#131722" font-size="14" text-anchor="middle" font-weight="bold" style="font-family:'Liberation Sans',sans-serif">Sep</text>
<text x="1175.7" y="758.9" fill="#131722" font-size="14" text-anchor="middle" style="font-family:'Liberation Sans',sans-serif">9</text>
<text x="1293.8" y="758.9" fill="#131722" font-size="14" text-anchor="middle" style="font-family:'Liberation Sans',sans-serif">16</text>
<text x="1411.5" y="758.9" fill="#131722" font-size="14" text-anchor="middle" style="font-family:'Liberation Sans',sans-serif">23</text>
<text x="1553" y="758.9" fill="#131722" font-size="14" text-anchor="middle" font-weight="bold" style="font-family:'Liberation Sans',sans-serif">Oct</text>
<text x="1647.4" y="758.9" fill="#131722" font-size="14" text-anchor="middle" style="font-family:'Liberation Sans',sans-serif">7</text><path d="M1752 613.5h61.8a2 2 0 0 1 2 2v16a2 2 0 0 1 -2 2h-61.8z" fill="#3a94f3"/><text x="1785.5" y="628.2" fill="#fff" font-size="13.5" font-weight="bold" text-anchor="middle" style="font-family:'Liberation Sans',sans-serif">0.84000</text><path d="M1694 541h119.8a2 2 0 0 1 2 2v17a2 2 0 0 1 -2 2h-119.8a2 2 0 0 1 -2 -2v-17a2 2 0 0 1 2 -2z" fill="#f8037f"/><rect x="1751" y="541" width="1" height="21" fill="#f7a6cc"/><text x="1721.4" y="556.7" fill="#fff" font-size="13.8" text-anchor="middle" textLength="50" lengthAdjust="spacingAndGlyphs" style="font-family:'Liberation Sans',sans-serif">USDCHF</text><text x="1785.5" y="556.5" fill="#fff" font-size="13.5" font-weight="bold" text-anchor="middle" style="font-family:'Liberation Sans',sans-serif">0.84826</text><path d="M6.1 783.1H13.7V792.5H10V786.7H6.1Z" fill="#131722"/><circle cx="16.95" cy="785.15" r="1.8" fill="#131722"/><path d="M21.4 783.1H25.8L21.8 792.5H17.3Z" fill="#131722"/><text x="29" y="792.7" fill="#131722" font-size="12.8" style="font-family:'Liberation Sans',sans-serif">TradingView</text></svg>
</body></html>
